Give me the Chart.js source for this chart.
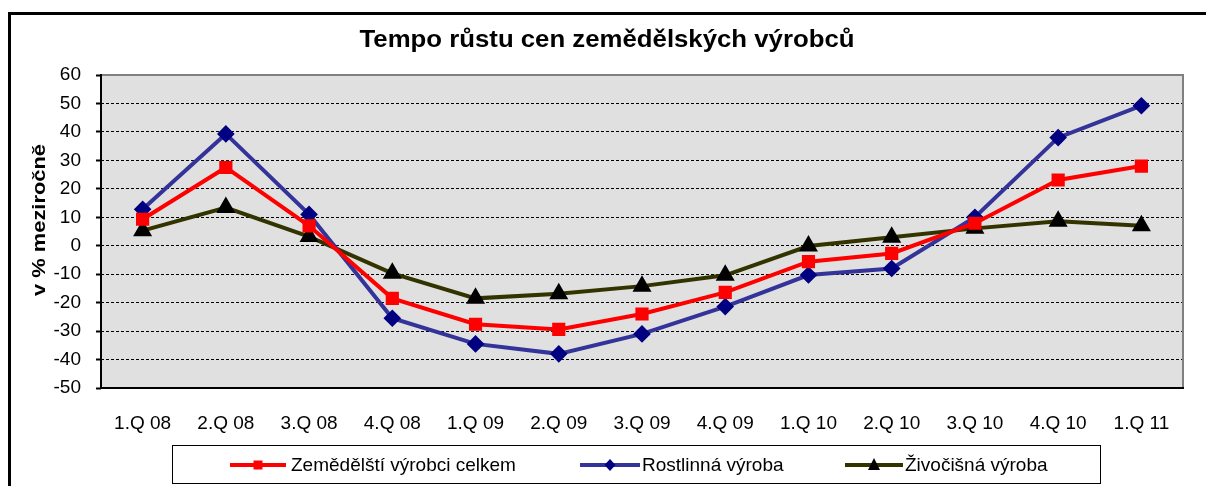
<!DOCTYPE html>
<html>
<head>
<meta charset="utf-8">
<script src="https://cdn.jsdelivr.net/npm/chart.js@4/dist/chart.umd.min.js"></script>
<style>
  body { margin: 0; background: #fff; }
</style>
</head>
<body>
<canvas id="graf" width="1206" height="486"></canvas>
<script>
// ctvrtleti
const ctvrtleti = ['1.Q 08', '2.Q 08', '3.Q 08', '4.Q 08', '1.Q 09', '2.Q 09', '3.Q 09',
                   '4.Q 09', '1.Q 10', '2.Q 10', '3.Q 10', '4.Q 10', '1.Q 11'];

// v % mezirocne
const celkem     = [9.3, 27.5, 7, -18.5, -27.6, -29.4, -24, -16.4, -5.6, -2.7, 7.9, 23.1, 28];
const rostlinna  = [12.8, 39.3, 11, -25.5, -34.5, -38, -31, -21.4, -10.3, -8, 10, 38, 49.2];
const zivocisna  = [5.3, 13.4, 3.2, -9.7, -18.5, -16.9, -14.2, -10.4, -0.1, 3, 6.1, 8.6, 7];

const nazvy = ['Zemědělští výrobci celkem', 'Rostlinná výroba', 'Živočišná výroba'];
const yTicky = { min: -50, max: 60, krok: 10 };

const pismo = '"Liberation Sans", Arial, sans-serif';

function znacka(ctx, typ, x, y, barva) {
    ctx.fillStyle = barva;
    ctx.beginPath();
    if (typ === 'rect') {
        ctx.rect(x - 4.5, y - 4.5, 9, 9);
    } else if (typ === 'rectRot') {
        ctx.moveTo(x, y - 6); ctx.lineTo(x + 5.5, y); ctx.lineTo(x, y + 6); ctx.lineTo(x - 5.5, y);
        ctx.closePath();
    } else {
        ctx.moveTo(x, y - 7); ctx.lineTo(x + 6, y + 5); ctx.lineTo(x - 6, y + 5);
        ctx.closePath();
    }
    ctx.fill();
}

// text roztazeny na danou sirku (predloha je vodorovne roztazena)
function textNaSirku(ctx, text, x, y, sirka) {
    const w = ctx.measureText(text).width;
    ctx.save();
    ctx.translate(x, y);
    ctx.scale(sirka / w, 1);
    ctx.fillText(text, 0, 0);
    ctx.restore();
}

const ramecek = {
    id: 'ramecek',
    beforeDraw(chart) {
        const { ctx, chartArea: a } = chart;
        ctx.save();
        ctx.fillStyle = '#fff';
        ctx.fillRect(0, 0, chart.width, chart.height);
        ctx.fillStyle = '#e0e0e0';
        ctx.fillRect(a.left, a.top, a.right - a.left, a.bottom - a.top);
        // vnejsi ramecek
        ctx.strokeStyle = '#000';
        ctx.lineWidth = 3;
        ctx.beginPath();
        ctx.moveTo(9.5, chart.height + 5);
        ctx.lineTo(9.5, 13.5);
        ctx.lineTo(chart.width + 5, 13.5);
        ctx.stroke();
        ctx.restore();
    },
    beforeDatasetsDraw(chart) {
        const { ctx, chartArea: a } = chart;
        ctx.save();
        ctx.strokeStyle = '#808080';
        ctx.lineWidth = 2;
        ctx.beginPath();
        ctx.moveTo(a.left, a.top);
        ctx.lineTo(a.right, a.top);
        ctx.lineTo(a.right, a.bottom);
        ctx.stroke();
        ctx.strokeStyle = '#000';
        ctx.beginPath();
        ctx.moveTo(a.left, a.top - 1);
        ctx.lineTo(a.left, a.bottom);
        ctx.lineTo(a.right + 1, a.bottom);
        ctx.stroke();
        ctx.restore();
    },
    afterDraw(chart) {
        const ctx = chart.ctx;
        ctx.save();
        ctx.fillStyle = '#000';
        ctx.textAlign = 'center';
        ctx.textBaseline = 'alphabetic';
        ctx.font = 'bold 23px ' + pismo;
        textNaSirku(ctx, 'Tempo růstu cen zemědělských výrobců', 607, 47, 495);

        // popis osy y
        ctx.save();
        ctx.translate(45, 220);
        ctx.rotate(-Math.PI / 2);
        ctx.font = 'bold 19px ' + pismo;
        textNaSirku(ctx, 'v % meziročně', 0, 0, 152);
        ctx.restore();

        // legenda
        ctx.strokeStyle = '#000';
        ctx.lineWidth = 1;
        ctx.strokeRect(172.5, 445.5, 928, 38);
        const polozky = [[230, 286, 291], [580, 640, 642], [845, 903, 905]];
        ctx.font = '19px ' + pismo;
        ctx.textAlign = 'left';
        ctx.textBaseline = 'middle';
        polozky.forEach((p, i) => {
            const ds = chart.data.datasets[i];
            const y = 465;
            ctx.strokeStyle = ds.borderColor;
            ctx.lineWidth = 4;
            ctx.beginPath();
            ctx.moveTo(p[0], y);
            ctx.lineTo(p[1], y);
            ctx.stroke();
            znacka(ctx, ds.pointStyle, (p[0] + p[1]) / 2, y, ds.pointBackgroundColor);
            ctx.fillStyle = '#000';
            ctx.fillText(nazvy[i], p[2], y + 1);
        });
        ctx.restore();
    }
};

new Chart(document.getElementById('graf').getContext('2d'), {
    type: 'line',
    data: {
        labels: ctvrtleti,
        datasets: [{
            label: nazvy[0],
            data: celkem,
            borderColor: '#ff0000',
            pointBackgroundColor: '#ff0000',
            pointBorderColor: '#ff0000',
            pointStyle: 'rect',
            pointRadius: 6.5,
            borderWidth: 4
        }, {
            label: nazvy[1],
            data: rostlinna,
            borderColor: '#333399',
            pointBackgroundColor: '#000080',
            pointBorderColor: '#000080',
            pointStyle: 'rectRot',
            pointRadius: 6,
            borderWidth: 4
        }, {
            label: nazvy[2],
            data: zivocisna,
            borderColor: '#333300',
            pointBackgroundColor: '#000000',
            pointBorderColor: '#000000',
            pointStyle: 'triangle',
            pointRadius: 7,
            borderWidth: 4
        }]
    },
    options: {
        responsive: false,
        animation: false,
        layout: { padding: { left: 0, top: 75, right: 23, bottom: 0 } },
        plugins: {
            legend: { display: false },
            title: { display: false },
            tooltip: { enabled: false }
        },
        scales: {
            x: {
                offset: true,
                grid: { display: false, drawTicks: false },
                border: { display: false },
                ticks: { color: '#000', padding: 24, maxRotation: 0, font: { family: pismo, size: 19 } },
                afterFit(s) { s.height = 98; }
            },
            y: {
                min: yTicky.min,
                max: yTicky.max,
                grid: { color: '#000', lineWidth: 1, tickColor: '#000', tickWidth: 2, tickLength: 5, tickBorderDash: [] },
                border: { display: false, dash: [3, 2] },
                ticks: { stepSize: yTicky.krok, color: '#000', padding: 15, font: { family: pismo, size: 19 } },
                afterFit(s) { s.width = 101; }
            }
        }
    },
    plugins: [ramecek]
});
</script>
</body>
</html>
